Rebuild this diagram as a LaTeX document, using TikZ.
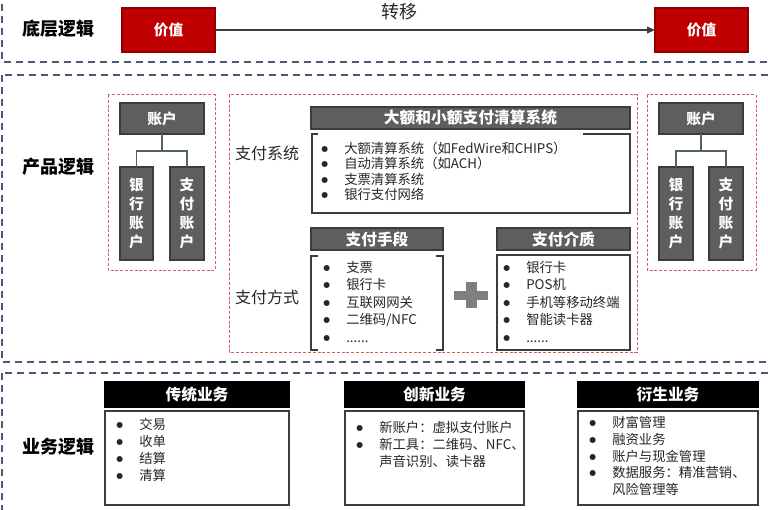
\documentclass[tikz,border=0pt]{standalone}
\usepackage{fontspec}
\setmainfont{Noto Sans CJK SC}
\newfontfamily\dvfont{DejaVu Sans}
\usetikzlibrary{arrows.meta}
\definecolor{bandc}{HTML}{4A5A78}
\definecolor{redd}{HTML}{D85C6E}
\definecolor{valred}{HTML}{C00000}
\definecolor{hdgray}{HTML}{5E5E5E}
\definecolor{hdline}{HTML}{3C3C3C}
\definecolor{txt}{HTML}{262626}
\definecolor{plusg}{HTML}{7F7F7F}
\definecolor{treec}{HTML}{52626A}
\newcommand{\mybul}{\makebox[17.25pt][l]{\raisebox{1.3pt}{\dvfont\fontsize{5.8}{6}\selectfont ●}}}
\newcommand{\litm}[4]{\node[litem] (#1) at (#2,#3) {\mybul #4};}
% box node: style, name, x1, y1, x2, y2, text  (pixel coordinates)
\newcommand{\bnode}[7]{\node[#1,minimum width={(#5-#3)*0.75pt},minimum height={(#6-#4)*0.75pt}] (#2) at ({(#3+#5)/2},{(#4+#6)/2}) {#7};}
\tikzset{
  band/.style={draw=bandc,line width=1.1pt,dash pattern=on 5.5pt off 3.5pt},
  reddash/.style={draw=redd,line width=0.75pt,dash pattern=on 2.2pt off 1.4pt},
  basebox/.style={inner sep=0pt,outer sep=0pt,anchor=center},
  valbox/.style={basebox,fill=valred,draw=valred!75!black,line width=0.8pt,text=white,font=\bfseries\fontsize{11}{13}\selectfont},
  acctbox/.style={basebox,fill=hdgray,draw=hdline,line width=1pt,text=white,font=\bfseries\fontsize{11}{14.25}\selectfont,align=center},
  grayhead/.style={basebox,fill=hdgray,draw=hdline,line width=1pt,text=white,font=\bfseries\fontsize{11.8}{14}\selectfont},
  blackhead/.style={basebox,fill=black,draw=black,line width=0.8pt,text=white,font=\bfseries\fontsize{11.8}{14}\selectfont},
  listline/.style={draw=hdline,line width=0.8pt},
  seclabel/.style={font=\bfseries\fontsize{13.5}{16}\selectfont,text=black,inner sep=0pt},
  sublabel/.style={font=\fontsize{12}{14}\selectfont,text=txt,inner sep=0pt},
  litem/.style={anchor=west,inner sep=0pt,font=\fontsize{10}{12}\selectfont,text=txt,text height=0.8em,text depth=0.2em},
  treeline/.style={draw=treec,line width=0.8pt},
  arrowline/.style={draw=hdline,line width=1.3pt,-{Triangle[length=6pt,width=5pt]}},
}
\begin{document}
\begin{tikzpicture}[x=0.75pt,y=-0.75pt]
\useasboundingbox (0,0) rectangle (768,510);
\clip (0,0) rectangle (768,510);
% bands
\draw[band] (2,-20) rectangle (800,62);
\draw[band] (2,75) rectangle (800,362);
\draw[band] (2,373) rectangle (800,540);
% ---- top: value transfer
\node[seclabel] (s1) at (58,29) {底层逻辑};
\bnode{valbox}{v1}{122}{8}{215}{52}{价值}
\bnode{valbox}{v2}{655}{8}{748}{52}{价值}
\draw[arrowline] (v1) -- (v2);
\node[font=\fontsize{13.5}{16}\selectfont,text=txt,inner sep=0pt] (tr) at (399,12) {转移};
% ---- product logic
\node[seclabel] (s2) at (58,167) {产品逻辑};
% left accounts
\draw[reddash] (108,95) rectangle (215,270);
\bnode{acctbox}{aL}{120}{103}{204}{134}{账户}
\bnode{acctbox}{bL}{120}{167}{153}{260}{银\\行\\账\\户}
\bnode{acctbox}{pL}{170}{167}{204}{260}{支\\付\\账\\户}
\draw[treeline] (aL.south) -- ++(0,17) -| (bL.north);
\draw[treeline] (aL.south) -- ++(0,17) -| (pL.north);
% right accounts
\draw[reddash] (647,95) rectangle (756,270);
\bnode{acctbox}{aR}{659}{103}{743}{134}{账户}
\bnode{acctbox}{bR}{659}{167}{693}{260}{银\\行\\账\\户}
\bnode{acctbox}{pR}{709}{167}{743}{260}{支\\付\\账\\户}
\draw[treeline] (aR.south) -- ++(0,17) -| (bR.north);
\draw[treeline] (aR.south) -- ++(0,17) -| (pR.north);
% middle
\draw[reddash] (229,95) rectangle (637,352);
\node[sublabel] (ps) at (267,153) {支付系统};
\bnode{grayhead}{h1}{311}{107}{630}{129}{大额和小额支付清算系统}
\draw[listline] (318,134) -- (312,134) -- (312,213) -- (630,213) -- (630,134) -- (583,134);
\litm{sy1}{321}{149}{大额清算系统（如FedWire和CHIPS）}
\litm{sy2}{321}{164.5}{自动清算系统（如ACH）}
\litm{sy3}{321}{180}{支票清算系统}
\litm{sy4}{321}{195.5}{银行支付网络}
\node[sublabel] (pm) at (267,297) {支付方式};
\bnode{grayhead}{h2}{311}{228}{443}{250}{支付手段}
\draw[listline] (318,256) -- (311,256) -- (311,350) -- (318,350);
\draw[listline] (436,256) -- (443,256) -- (443,350) -- (436,350);
\litm{sd1}{323}{268}{支票}
\litm{sd2}{323}{285.5}{银行卡}
\litm{sd3}{323}{303}{互联网网关}
\litm{sd4}{323}{320.5}{二维码/NFC}
\litm{sd5}{323}{338}{......}
\fill[plusg] (454,291) rectangle (488,300);
\fill[plusg] (466,282) rectangle (477,308);
\bnode{grayhead}{h3}{497}{228}{630}{250}{支付介质}
\draw[listline] (497,255) rectangle (630,350);
\litm{jz1}{503}{268}{银行卡}
\litm{jz2}{503}{285.5}{POS机}
\litm{jz3}{503}{303}{手机等移动终端}
\litm{jz4}{503}{320.5}{智能读卡器}
\litm{jz5}{503}{338}{......}
% ---- business logic
\node[seclabel] (s3) at (58,447) {业务逻辑};
\bnode{blackhead}{b1}{105}{382}{289}{407}{传统业务}
\draw[listline] (105,411) rectangle (289,505);
\litm{t1}{116}{425}{交易}
\litm{t2}{116}{442}{收单}
\litm{t3}{116}{459}{结算}
\litm{t4}{116}{476}{清算}
\bnode{blackhead}{b2}{345}{382}{524}{407}{创新业务}
\draw[listline] (345,411) rectangle (524,505);
\litm{n1}{356}{428}{新账户：虚拟支付账户}
\litm{n2}{356}{445}{新工具：二维码、NFC、}
\node[litem] (n3) at (356,462) {\makebox[17.25pt]{}声音识别、读卡器};
\bnode{blackhead}{b3}{578}{382}{758}{407}{衍生业务}
\draw[listline] (578,411) rectangle (758,505);
\litm{d1}{589}{423}{财富管理}
\litm{d2}{589}{440}{融资业务}
\litm{d3}{589}{457}{账户与现金管理}
\litm{d4}{589}{473.5}{数据服务：精准营销、}
\node[litem] (d5) at (589,490) {\makebox[17.25pt]{}风险管理等};
\end{tikzpicture}
\end{document}
